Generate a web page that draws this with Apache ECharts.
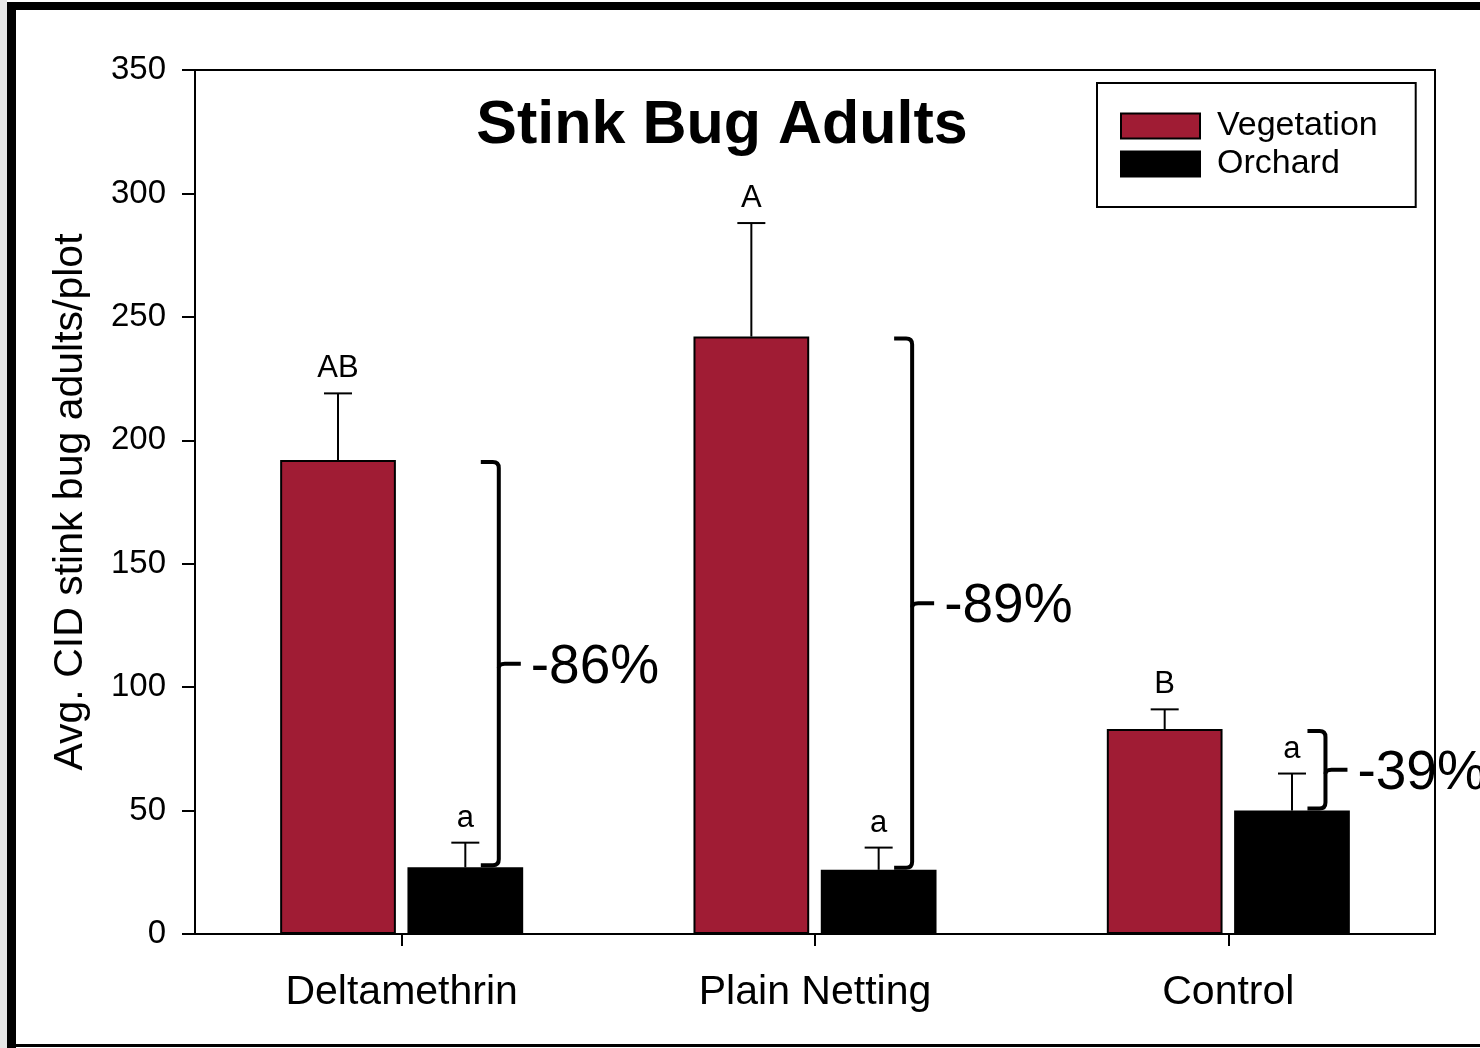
<!DOCTYPE html>
<html>
<head>
<meta charset="utf-8">
<script src="https://cdn.jsdelivr.net/npm/echarts@6/dist/echarts.min.js"></script>
<style>
html,body{margin:0;padding:0;background:#fff;}
#c{width:1480px;height:1048px;}
</style>
</head>
<body>
<div id="c"></div>
<script>
var categories = ['Deltamethrin', 'Plain Netting', 'Control'];
var vegetation = [192, 242, 83];
var vegetationErr = [219, 288, 91];
var orchard = [27, 26, 50];
var orchardErr = [37, 35, 65];
var vegLetters = ['AB', 'A', 'B'];
var orchLetters = ['a', 'a', 'a'];
var reductionLabels = ['-86%', '-89%', '-39%'];
var yTicks = [0, 50, 100, 150, 200, 250, 300, 350];

var FONT = '"Liberation Sans", Arial, Helvetica, sans-serif';
var RED = '#a01c34';
var BAR_W = 0.28, GAP = 0.1;

function errData(vals, errs, letters) {
  return vals.map(function (v, i) { return [i, v, errs[i], letters[i]]; });
}

function errRender(sign) {
  return function (params, api) {
    var ci = api.value(0), v = api.value(1), e = api.value(2);
    var letter = (sign < 0 ? vegLetters : orchLetters)[params.dataIndex];
    var band = api.size([1, 0])[0];
    var bw = band * BAR_W;
    var off = bw / 2 + bw * GAP / 2;
    var p0 = api.coord([ci, v]);
    var p1 = api.coord([ci, e]);
    var x = p0[0] + sign * off;
    var cap = 14;
    return {
      type: 'group',
      children: [
        {type: 'line', shape: {x1: x, y1: p0[1], x2: x, y2: p1[1]}, style: {stroke: '#000', lineWidth: 2}},
        {type: 'line', shape: {x1: x - cap, y1: p1[1], x2: x + cap, y2: p1[1]}, style: {stroke: '#000', lineWidth: 2}},
        {type: 'text', style: {text: letter, x: x, y: p1[1] - 9, textAlign: 'center', textVerticalAlign: 'bottom',
          fontSize: 31, fontFamily: FONT, fill: '#000'}}
      ]
    };
  };
}

var bracketData = categories.map(function (c, i) { return [i, vegetation[i], orchard[i], reductionLabels[i]]; });

function bracketRender(params, api) {
  var ci = api.value(0), top = api.value(1), bot = api.value(2);
  var label = reductionLabels[params.dataIndex];
  var band = api.size([1, 0])[0];
  var pT = api.coord([ci, top]);
  var pB = api.coord([ci, bot]);
  var x = pT[0] + band * 0.235;
  var yT = pT[1] + 2, yB = pB[1] - 2;
  var yM = (yT + yB) / 2;
  var h = 18, r = 6, nub = 22;
  var path = 'M' + (x - h) + ' ' + yT + ' L' + (x - r) + ' ' + yT +
    ' Q' + x + ' ' + yT + ' ' + x + ' ' + (yT + r) +
    ' L' + x + ' ' + (yB - r) +
    ' Q' + x + ' ' + yB + ' ' + (x - r) + ' ' + yB +
    ' L' + (x - h) + ' ' + yB;
  var nubPath = 'M' + x + ' ' + (yM + 4) + ' Q' + x + ' ' + yM + ' ' + (x + 6) + ' ' + yM + ' L' + (x + nub) + ' ' + yM;
  return {
    type: 'group',
    children: [
      {type: 'path', shape: {pathData: path}, style: {stroke: '#000', lineWidth: 4, fill: null}},
      {type: 'path', shape: {pathData: nubPath}, style: {stroke: '#000', lineWidth: 4, fill: null}},
      {type: 'text', style: {text: label, x: x + nub + 10, y: yM + 4, textAlign: 'left', textVerticalAlign: 'middle',
        fontSize: 55, fontFamily: FONT, fill: '#000'}}
    ]
  };
}

var chart = echarts.init(document.getElementById('c'), null, {renderer: 'canvas'});
chart.setOption({
  backgroundColor: '#fff',
  animation: false,
  grid: {left: 195, right: 45, top: 70, bottom: 114, show: true, borderColor: '#000', borderWidth: 2, backgroundColor: 'transparent'},
  legend: {
    orient: 'vertical', left: 1097, top: 83, width: 320,
    padding: [26, 38, 26, 23], itemGap: 4, itemWidth: 79, itemHeight: 25,
    borderColor: '#000', borderWidth: 2, backgroundColor: '#fff',
    icon: 'rect',
    textStyle: {fontSize: 34, fontFamily: FONT, color: '#000', padding: [0, 0, 0, 12]},
    data: ['Vegetation', 'Orchard']
  },
  xAxis: {
    type: 'category', data: categories,
    axisLine: {lineStyle: {color: '#000', width: 2}},
    axisTick: {show: true, alignWithLabel: true, length: 12, lineStyle: {color: '#000', width: 2}},
    axisLabel: {fontSize: 41, fontFamily: FONT, color: '#000', margin: 38},
    splitLine: {show: false}
  },
  yAxis: {
    type: 'value', min: yTicks[0], max: yTicks[yTicks.length - 1], interval: 50,
    name: 'Avg. CID stink bug adults/plot', nameLocation: 'middle', nameGap: 104, nameRotate: 90,
    nameTextStyle: {fontSize: 41, fontFamily: FONT, color: '#000'},
    axisLine: {show: true, lineStyle: {color: '#000', width: 2}},
    axisTick: {show: true, length: 13, lineStyle: {color: '#000', width: 2}},
    axisLabel: {fontSize: 33, fontFamily: FONT, color: '#000', margin: 29},
    splitLine: {show: false}
  },
  series: [
    {name: 'Vegetation', type: 'bar', data: vegetation, barWidth: (BAR_W * 100) + '%', barGap: (GAP * 100) + '%',
      itemStyle: {color: RED, borderColor: '#000', borderWidth: 2}},
    {name: 'Orchard', type: 'bar', data: orchard, barWidth: (BAR_W * 100) + '%', barGap: (GAP * 100) + '%',
      itemStyle: {color: '#000', borderColor: '#000', borderWidth: 2}},
    {type: 'custom', renderItem: errRender(-1), data: errData(vegetation, vegetationErr, vegLetters), z: 5, silent: true},
    {type: 'custom', renderItem: errRender(1), data: errData(orchard, orchardErr, orchLetters), z: 5, silent: true},
    {type: 'custom', renderItem: bracketRender, data: bracketData, z: 1, silent: true}
  ],
  graphic: [
    {type: 'rect', shape: {x: 0, y: 0, width: 7, height: 1048}, style: {fill: '#e6e6e6'}, silent: true},
    {type: 'rect', shape: {x: 7, y: 2, width: 9, height: 1046}, style: {fill: '#000'}, silent: true},
    {type: 'rect', shape: {x: 7, y: 2, width: 1473, height: 8}, style: {fill: '#000'}, silent: true},
    {type: 'rect', shape: {x: 7, y: 1044, width: 1473, height: 3}, style: {fill: '#000'}, silent: true},
    {type: 'text', style: {text: 'Stink Bug Adults', x: 722, y: 126, textAlign: 'center', textVerticalAlign: 'middle',
      fontSize: 61, fontWeight: 'bold', fontFamily: FONT, fill: '#000'}}
  ]
});
</script>
</body>
</html>
